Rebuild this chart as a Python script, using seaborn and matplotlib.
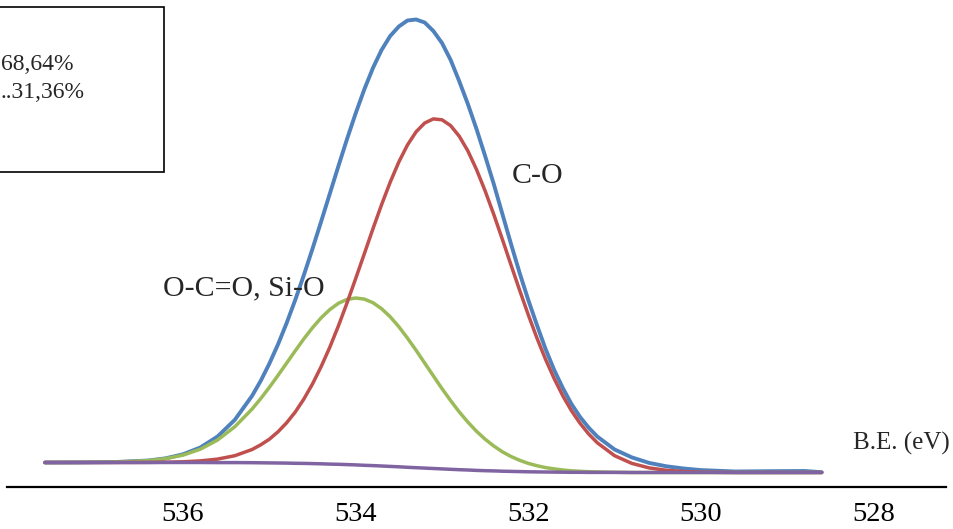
import matplotlib
matplotlib.use("Agg")
import matplotlib.pyplot as plt
from matplotlib.patches import Rectangle
import seaborn as sns
import pandas as pd

# ---- data (binding energy in eV, intensity in arbitrary units) ----
energy = [537.6, 537.2, 536.8, 536.4, 536.2, 536.0, 535.8, 535.6, 535.4, 535.2,
          535.1, 535.0, 534.9, 534.8, 534.7, 534.6, 534.5, 534.4, 534.3, 534.2,
          534.1, 534.0, 533.9, 533.8, 533.7, 533.6, 533.5, 533.4, 533.3, 533.2,
          533.1, 533.0, 532.9, 532.8, 532.7, 532.6, 532.5, 532.4, 532.3, 532.2,
          532.1, 532.0, 531.9, 531.8, 531.7, 531.6, 531.5, 531.4, 531.3, 531.2,
          531.0, 530.8, 530.6, 530.4, 530.2, 530.0, 529.6, 529.2, 528.8, 528.6]

measured = [24.5, 24.6, 24.9, 26.5, 28.7, 32.7, 39.5, 50.5, 67.2, 91.2,
            106.2, 123.4, 142.6, 163.9, 187.1, 212.0, 238.3, 265.5, 293.2, 320.9,
            348.0, 373.7, 397.6, 419.0, 437.0, 451.0, 460.5, 466.5, 467.5, 464.5,
            456.0, 444.0, 427.1, 405.8, 383.0, 358.0, 331.0, 303.0, 273.0, 243.0,
            214.0, 187.0, 162.0, 138.0, 117.0, 99.0, 83.0, 70.0, 59.3, 50.4,
            37.5, 29.6, 24.1, 20.7, 18.5, 16.9, 15.5, 15.8, 16.0, 14.8]

c_o = [24.5, 24.5, 24.5, 24.6, 24.8, 25.2, 26.1, 27.9, 31.3, 37.5,
       42.2, 47.8, 55.2, 64.2, 75.0, 88.0, 103.1, 120.4, 139.7, 161.1,
       184.1, 208.4, 233.2, 258.2, 282.3, 304.8, 325.0, 342.0, 355.2, 364.0,
       368.1, 367.2, 361.4, 350.8, 336.1, 317.5, 296.1, 272.6, 247.6, 222.0,
       196.7, 172.2, 149.0, 127.7, 108.4, 91.2, 76.3, 63.7, 53.0, 44.2,
       31.3, 23.6, 19.1, 16.7, 15.5, 14.9, 14.5, 14.5, 14.5, 14.5]

occo_sio = [24.5, 24.6, 24.9, 26.4, 28.4, 31.9, 37.8, 47.0, 60.3, 78.0,
            88.4, 99.7, 111.6, 123.9, 136.2, 148.2, 159.3, 169.2, 177.4, 183.7,
            187.6, 189.0, 187.9, 184.3, 178.3, 170.2, 160.3, 148.9, 136.7, 123.9,
            111.1, 98.4, 86.4, 75.1, 64.9, 55.7, 47.8, 41.0, 35.2, 30.5,
            26.7, 23.6, 21.3, 19.4, 18.1, 17.0, 16.2, 15.7, 15.3, 15.1,
            14.7, 14.5, 14.5, 14.5, 14.5, 14.5, 14.5, 14.5, 14.5, 14.5]

background = [24.5, 24.5, 24.5, 24.5, 24.5, 24.5, 24.5, 24.4, 24.4, 24.3,
              24.2, 24.1, 24.0, 23.9, 23.7, 23.6, 23.4, 23.2, 22.9, 22.7,
              22.4, 22.1, 21.7, 21.4, 21.0, 20.6, 20.2, 19.7, 19.3, 18.9,
              18.5, 18.1, 17.7, 17.3, 17.0, 16.6, 16.3, 16.1, 15.8, 15.6,
              15.4, 15.2, 15.1, 15.0, 14.9, 14.8, 14.7, 14.7, 14.6, 14.6,
              14.6, 14.5, 14.5, 14.5, 14.5, 14.5, 14.5, 14.5, 14.5, 14.5]

tick_values = [536, 534, 532, 530, 528]
label_peak1 = "C-O"
label_peak2 = "O-C=O, Si-O"
axis_label = "B.E. (eV)"
pct_lines = ["68,64%", "..31,36%"]

df = pd.DataFrame({"E": energy, "measured": measured, "C-O": c_o,
                   "O-C=O": occo_sio, "background": background})

# ---- style ----
sns.set_style("white")
plt.rcParams["font.family"] = ["Liberation Serif", "DejaVu Serif"]

W, H = 954, 529
fig = plt.figure(figsize=(W / 100, H / 100), dpi=100)
ax = fig.add_axes([7 / W, 1 - 487 / H, (946 - 7) / W, 487 / H])

colors = {"measured": "#4F81BD", "O-C=O": "#9BBB59", "C-O": "#C0504D",
          "background": "#8064A2"}
widths = {"measured": 2.8, "O-C=O": 2.5, "C-O": 2.5, "background": 2.5}
for col in ["measured", "O-C=O", "C-O", "background"]:
    sns.lineplot(data=df, x="E", y=col, ax=ax, color=colors[col],
                 lw=widths[col], legend=False, solid_capstyle="round",
                 solid_joinstyle="round")

ax.set_xlim(538.04, 527.16)
ax.set_ylim(0, 487)
ax.set_xticks(tick_values)
ax.set_xticklabels([str(t) for t in tick_values])
ax.set_yticks([])
ax.set_xlabel("")
ax.set_ylabel("")
for s in ["top", "left", "right"]:
    ax.spines[s].set_visible(False)
ax.spines["bottom"].set_color("black")
ax.spines["bottom"].set_linewidth(1.6)
ax.tick_params(axis="x", length=0, pad=10.5, labelsize=20.5, colors="black")
ax.set_facecolor("none")
fig.patch.set_facecolor("white")


def fx(px):
    return px / W


def fy(py):
    return 1 - py / H


fig.text(fx(853), fy(443), axis_label, ha="left", va="center", fontsize=18)
fig.text(fx(512), fy(183), label_peak1, ha="left", va="baseline", fontsize=21.5)
fig.text(fx(163), fy(295), label_peak2, ha="left", va="baseline", fontsize=21.5)

# percentage box (its left side runs past the figure edge, as in the source)
box = Rectangle((fx(-20), fy(172)), fx(164) - fx(-20), fy(7) - fy(172),
                transform=fig.transFigure, fill=False, edgecolor="black",
                linewidth=1.2)
fig.patches.append(box)
fig.text(fx(1), fy(70), pct_lines[0], ha="left", va="baseline", fontsize=17)
fig.text(fx(1), fy(98), pct_lines[1], ha="left", va="baseline", fontsize=17)

fig.savefig("out.png", dpi=100)
